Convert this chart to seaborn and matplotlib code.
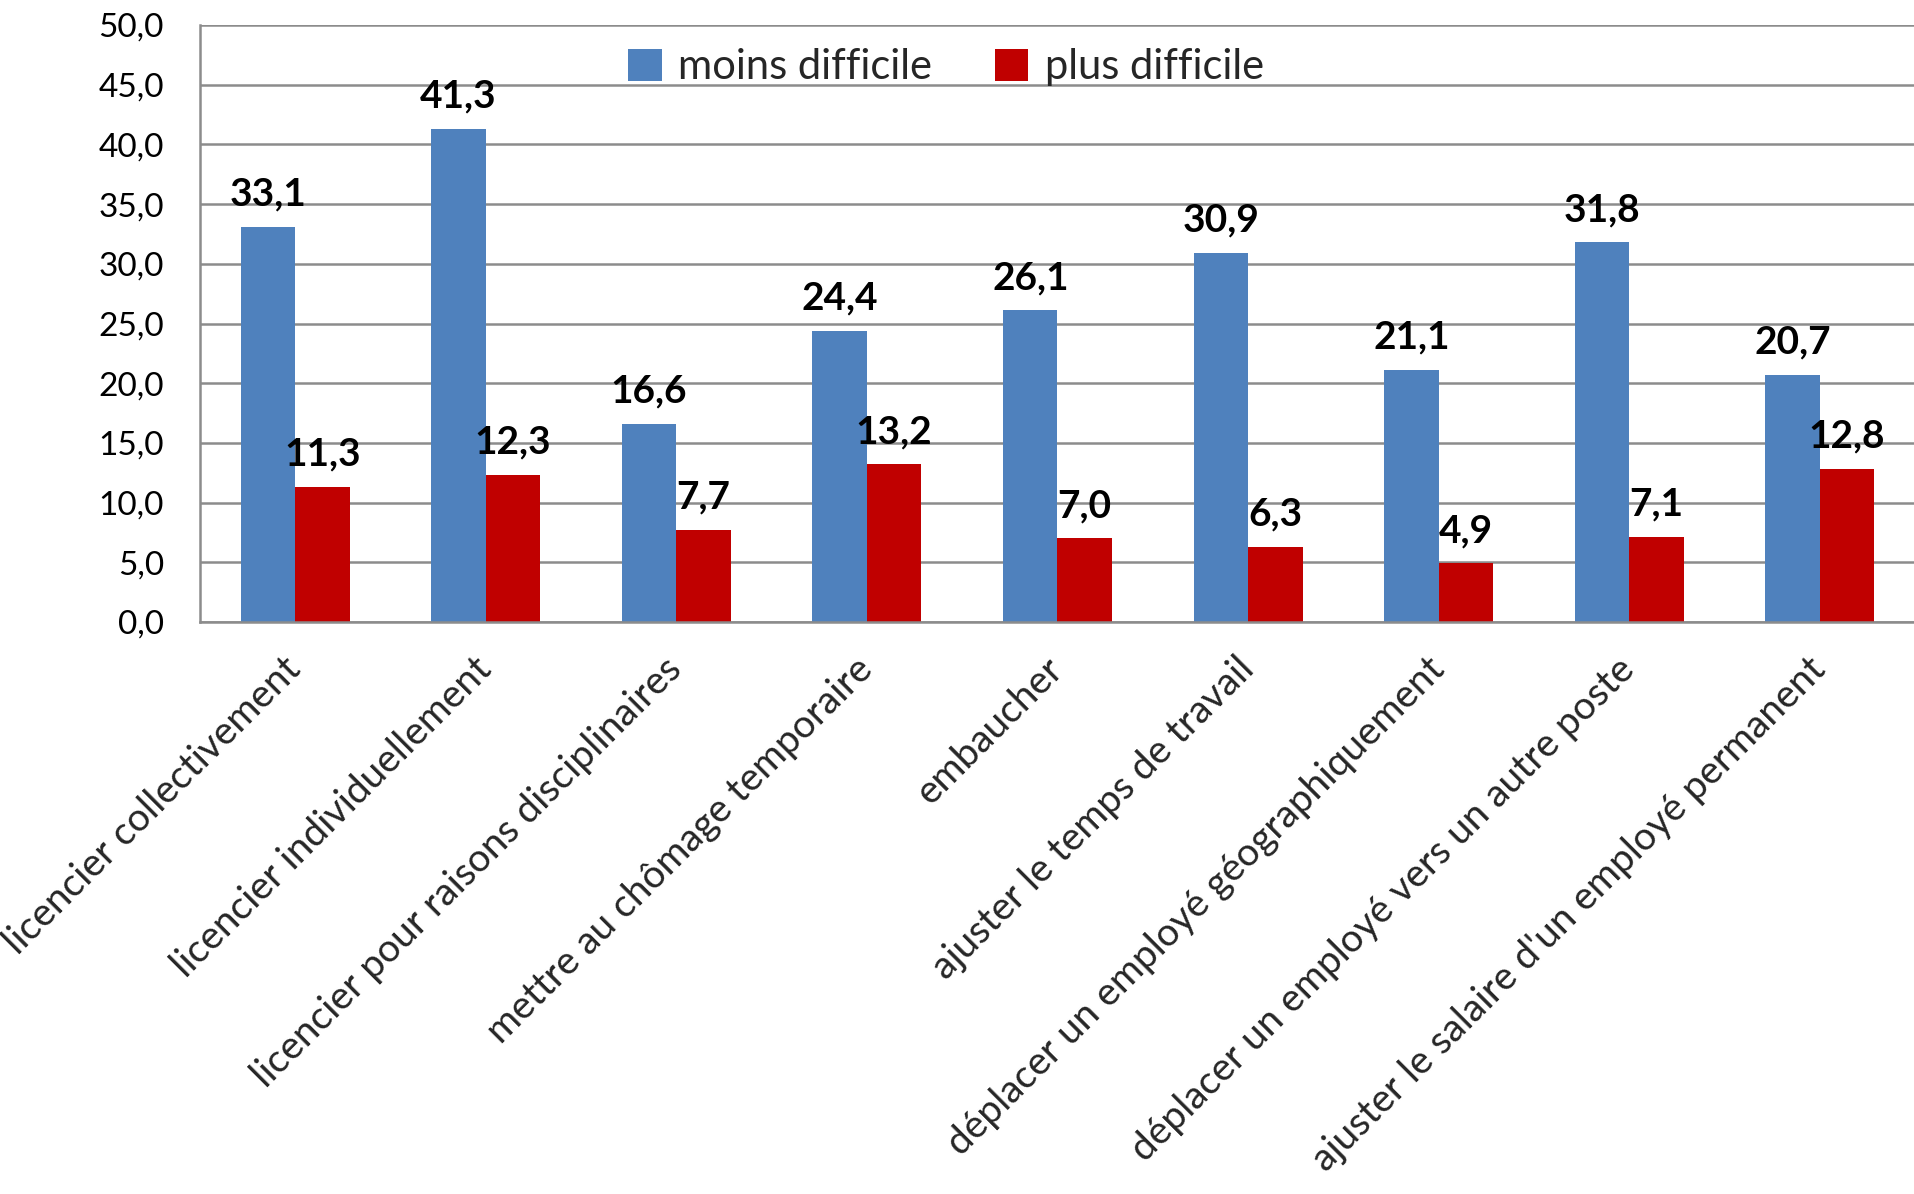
import matplotlib
matplotlib.use("Agg")
import matplotlib.pyplot as plt
import seaborn as sns
import pandas as pd

categories = [
    "licencier collectivement",
    "licencier individuellement",
    "licencier pour raisons disciplinaires",
    "mettre au chômage temporaire",
    "embaucher",
    "ajuster le temps de travail",
    "déplacer un employé géographiquement",
    "déplacer un employé vers un autre poste",
    "ajuster le salaire d'un employé permanent",
]
moins_difficile = [33.1, 41.3, 16.6, 24.4, 26.1, 30.9, 21.1, 31.8, 20.7]
plus_difficile = [11.3, 12.3, 7.7, 13.2, 7.0, 6.3, 4.9, 7.1, 12.8]
series_names = ["moins difficile", "plus difficile"]
yticks = [0, 5, 10, 15, 20, 25, 30, 35, 40, 45, 50]

df = pd.DataFrame({
    "cat": categories * 2,
    "val": moins_difficile + plus_difficile,
    "serie": [series_names[0]] * len(categories) + [series_names[1]] * len(categories),
})

sns.set_theme(style="white")
plt.rcParams["font.family"] = ["Lato", "DejaVu Sans"]

W, H = 1915, 1194
fig = plt.figure(figsize=(W / 100, H / 100), dpi=100)
left, right, top, bottom = 200, 1915, 25, 622
ax = fig.add_axes([left / W, 1 - bottom / H, (right - left) / W, (bottom - top) / H])

sns.barplot(data=df, x="cat", y="val", hue="serie", hue_order=series_names,
            palette=["#4F81BD", "#C00000"], width=0.572, gap=0, ax=ax,
            edgecolor="none", linewidth=0, saturation=1)

ax.set_ylim(0, 50)
ax.set_xlim(-0.5, len(categories) - 0.5)
ax.set_yticks(yticks)
ax.set_yticklabels([f"{v:.1f}".replace(".", ",") for v in yticks], fontsize=24)
ax.yaxis.grid(True, color="#8c8c8c", linewidth=1.8)
ax.set_axisbelow(True)
ax.set_xlabel("")
ax.set_ylabel("")
ax.tick_params(axis="y", length=0, pad=26, labelcolor="black")
ax.tick_params(axis="x", length=0, pad=30)

for s in ["top", "right"]:
    ax.spines[s].set_visible(False)
for s in ["left", "bottom"]:
    ax.spines[s].set_color("#8c8c8c")
    ax.spines[s].set_linewidth(1.8)

ax.set_xticks(range(len(categories)))
ax.set_xticklabels(categories, rotation=45, ha="right", va="center",
                   rotation_mode="anchor", fontsize=28)

for cont in ax.containers:
    ax.bar_label(cont, labels=[f"{v:.1f}".replace(".", ",") for v in cont.datavalues],
                 padding=11, fontsize=28, fontweight="bold", color="black")

leg = ax.legend(loc="center", bbox_to_anchor=(0.435, 0.929), ncol=2, frameon=False,
                fontsize=30, handlelength=0.8, handleheight=0.8, handletextpad=0.4,
                columnspacing=1.5)

fig.savefig("out.png", dpi=100)
